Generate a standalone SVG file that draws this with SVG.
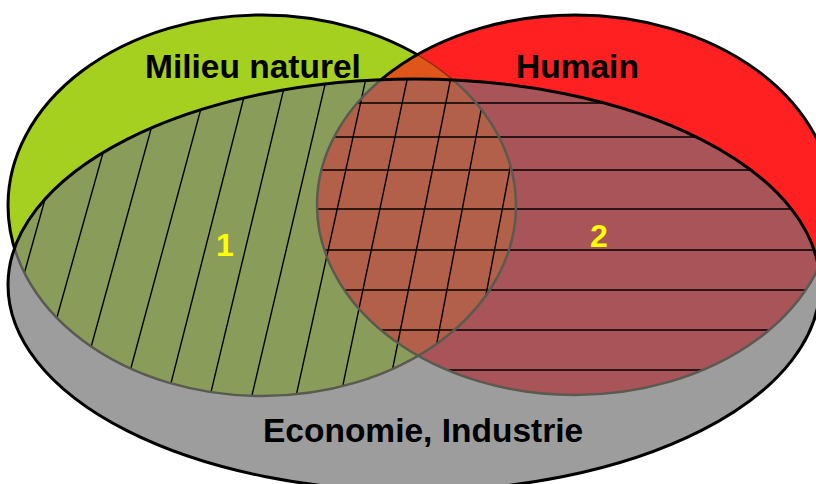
<svg xmlns="http://www.w3.org/2000/svg" width="816" height="484" viewBox="0 0 816 484">
<style>
.lbl{font-family:"Liberation Sans",Arial,sans-serif;font-weight:bold;font-size:33.5px;fill:#000}
.num{font-family:"Liberation Sans",Arial,sans-serif;font-weight:bold;font-size:32px;fill:#ffff00}
.hatch line{stroke:#000;stroke-width:1.4}
.edge{fill:none;stroke:#000;stroke-width:3}
.inner{fill:none;stroke:#5a5a50;stroke-width:2.5}
</style>
<defs>
<ellipse id="eG" cx="262" cy="205.5" rx="254" ry="190.5"/>
<ellipse id="eR" cx="575" cy="205" rx="258" ry="190"/>
<ellipse id="eE" cx="414" cy="285" rx="406" ry="206"/>
<clipPath id="cG"><use href="#eG"/></clipPath>
<clipPath id="cR"><use href="#eR"/></clipPath>
<clipPath id="cE"><use href="#eE"/></clipPath>
</defs>
<rect width="816" height="484" fill="#fff"/>
<g id="milieu-naturel">
<use href="#eG" fill="#a6d01f" stroke="#000" stroke-width="3"/>
</g>
<g id="humain">
<use href="#eR" fill="#ff2121"/>
<g clip-path="url(#cR)"><use href="#eG" fill="#e0561a"/><use href="#eG" fill="none" stroke="#8a3010" stroke-width="1.5"/></g>
<use href="#eR" class="edge"/>
</g>
<g id="economie-industrie">
<use href="#eE" fill="#9d9d9d"/>
</g>
<g id="zone-1" clip-path="url(#cE)">
<use href="#eG" fill="#8a9c5a"/>
</g>
<g id="zone-2" clip-path="url(#cE)">
<use href="#eR" fill="#a85458"/>
</g>
<g id="zone-commune" clip-path="url(#cE)">
<g clip-path="url(#cR)"><use href="#eG" fill="#b2604a"/></g>
</g>
<g id="hachures-1" class="hatch" clip-path="url(#cE)">
<g clip-path="url(#cG)">
<line x1="84" y1="60" x2="-16.8" y2="420"/>
<line x1="129" y1="60" x2="28.2" y2="420"/>
<line x1="170" y1="60" x2="71" y2="420"/>
<line x1="214.1" y1="60" x2="116.9" y2="420"/>
<line x1="253.4" y1="60" x2="161.6" y2="420"/>
<line x1="290.7" y1="60" x2="204.3" y2="420"/>
<line x1="330.8" y1="60" x2="246.2" y2="420"/>
<line x1="370" y1="60" x2="290.8" y2="420"/>
<line x1="411.2" y1="60" x2="335.6" y2="420"/>
<line x1="454.4" y1="60" x2="382.4" y2="420"/>
<line x1="490.6" y1="60" x2="422.2" y2="420"/>
<line x1="530.6" y1="60" x2="462.2" y2="420"/>
</g>
</g>
<g id="hachures-2" class="hatch" clip-path="url(#cE)">
<g clip-path="url(#cR)">
<line x1="300" y1="103" x2="840" y2="103"/>
<line x1="300" y1="137" x2="840" y2="137"/>
<line x1="300" y1="170" x2="840" y2="170"/>
<line x1="300" y1="209" x2="840" y2="209"/>
<line x1="300" y1="250" x2="840" y2="250"/>
<line x1="300" y1="290" x2="840" y2="290"/>
<line x1="300" y1="330" x2="840" y2="330"/>
<line x1="300" y1="370" x2="840" y2="370"/>
</g>
</g>
<g id="contours-internes" clip-path="url(#cE)">
<use href="#eG" class="inner"/>
<use href="#eR" class="inner"/>
</g>
<use href="#eE" class="edge"/>
<g id="textes">
<text class="lbl" x="145" y="78">Milieu naturel</text>
<text class="lbl" x="516" y="78">Humain</text>
<text class="lbl" x="263" y="442">Economie, Industrie</text>
<text class="num" x="216" y="256">1</text>
<text class="num" x="590" y="247">2</text>
</g>
</svg>
